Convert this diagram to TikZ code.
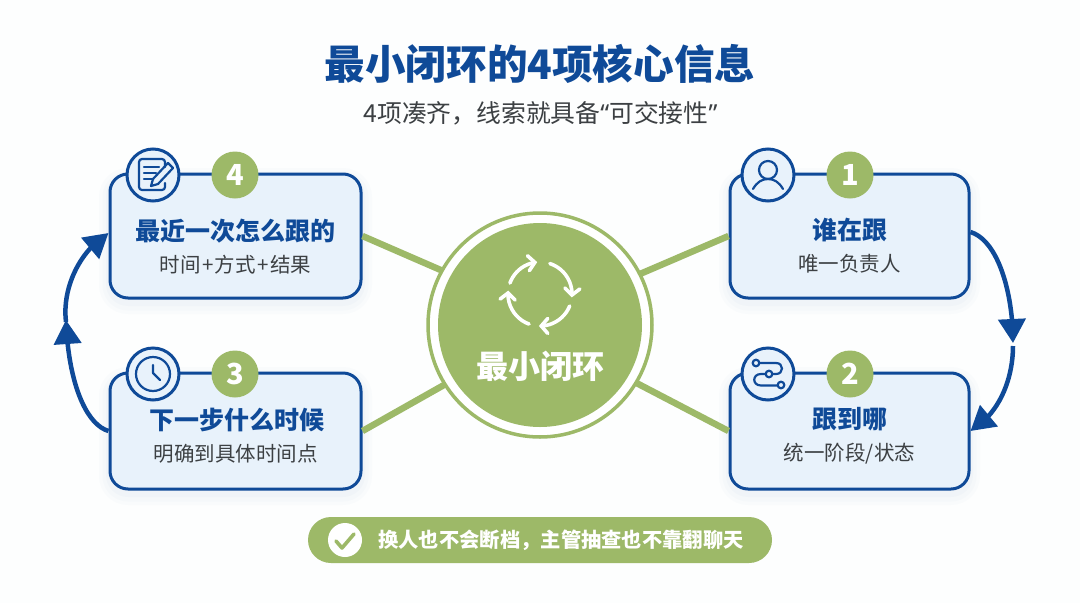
\documentclass[tikz,border=0pt]{standalone}
\usepackage{fontspec}
\setmainfont{Noto Sans CJK SC}
\newfontfamily\heavyf{Noto Sans CJK SC Black}
\newfontfamily\latinq{Noto Sans}
\usetikzlibrary{arrows.meta,calc,bending}
\definecolor{navy}{HTML}{0F4A98}
\definecolor{leaf}{HTML}{9DB968}
\definecolor{paleblue}{HTML}{E8F2FB}
\definecolor{greytext}{HTML}{3C4043}
\definecolor{pagebg}{HTML}{FDFEFE}
\newcommand{\fs}[1]{\fontsize{#1}{#1}\selectfont}
\newcommand{\plus}{\kern1.5pt+\kern1.5pt}
\tikzset{
  x=1pt,y=-1pt,
  card/.style={draw=navy,line width=3pt,fill=paleblue,rounded corners=18pt,minimum width=#1,inner sep=0pt,
    preaction={draw=navy!60,draw opacity=.025,fill=none,line width=22pt,transform canvas={yshift=-5pt}},
    preaction={draw=navy!60,draw opacity=.025,fill=none,line width=15pt,transform canvas={yshift=-5pt}},
    preaction={draw=navy!60,draw opacity=.03,fill=none,line width=8pt,transform canvas={yshift=-4pt}}},
  iconring/.style={circle,draw=navy,line width=3pt,fill=paleblue,minimum size=52pt,inner sep=0pt},
  badge/.style={circle,fill=leaf,text=white,minimum size=47pt,inner sep=0pt,font=\fs{29}\bfseries},
  cardtitle/.style={text=navy,font=\fs{25}\heavyf,inner sep=0pt},
  cardsub/.style={text=greytext,font=\fs{20.5},inner sep=0pt},
  spoke/.style={draw=leaf,line width=6.5pt},
  flow/.style={draw=navy,line width=4.5pt},
  flowtip/.style={flow,-{Triangle[length=24pt,width=27pt,flex]}},
  glyph/.style={draw=navy,line width=2.2pt,line cap=round,line join=round},
  cyc/.style={draw=white,line width=3.6pt,line cap=round,-{Straight Barb[length=6.5pt,width=15pt,line cap=round]}},
}
\begin{document}
\begin{tikzpicture}
\useasboundingbox (0,0) rectangle (1080,603);
\fill[pagebg] (0,0) rectangle (1080,603);

\node[text=navy,font=\fs{40.6}\heavyf,inner sep=0pt] (title) at (540,64) {最小闭环的4项核心信息};
\node[text=greytext,font=\fs{24.8},inner sep=0pt] (subtitle) at (540.5,113) {4项凑齐，线索就具备{\latinq“}可交接性{\latinq”}};

% hub placeholder for the spokes
\node[circle,minimum size=226pt,inner sep=0pt] (hub) at (540,325) {};

% cards
\node[card=251pt,minimum height=124pt] (card4) at (235.5,236) {};
\node[card=251pt,minimum height=116pt] (card3) at (235.5,431) {};
\node[card=239pt,minimum height=124pt] (card1) at (849.5,236) {};
\node[card=239pt,minimum height=116pt] (card2) at (849.5,431) {};

% spokes
\draw[spoke] (card4.east) -- (hub.151);
\draw[spoke] (card3.east) -- (hub.212);
\draw[spoke] (card1.west) -- (hub.27);
\draw[spoke] (card2.west) -- (hub.-31);

% hub
\node[circle,draw=leaf,line width=3.5pt,fill=white,minimum size=224pt,inner sep=0pt] (hubring) at (540,325) {};
\node[circle,fill=leaf,minimum size=204pt,inner sep=0pt] (hubdisc) at (540,325) {};
\draw[cyc] plot[smooth,domain=160:95,samples=12] ({540+32*cos(\x)},{294-32*sin(\x)});
\draw[cyc] plot[smooth,domain=72:-6,samples=12] ({540+32*cos(\x)},{294-32*sin(\x)});
\draw[cyc] plot[smooth,domain=-22:-92,samples=12] ({540+32*cos(\x)},{294-32*sin(\x)});
\draw[cyc] plot[smooth,domain=-110:-186,samples=12] ({540+32*cos(\x)},{294-32*sin(\x)});
\node[text=white,font=\fs{32}\bfseries,inner sep=0pt] (hublabel) at (540,366) {最小闭环};

% flow arrows
\coordinate (right1) at (1013,343);
\coordinate (right2) at (1013,346);
\coordinate (left1) at (66,320);
\coordinate (left2) at (66,322);
\draw[flowtip] ([yshift=4pt]card1.east) .. controls (997,240) and (1013,290) .. (right1);
\draw[flowtip] (right2) .. controls (1013,375) and (1002,412) .. (card2.east);
\draw[flowtip] (card3.west) .. controls (85,424) and (68,380) .. (left1);
\draw[flowtip] (left2) .. controls (62,290) and (78,252) .. ([yshift=3pt]card4.west);

% icon rings and badges
\node[iconring] (icon4) at (153,175) {};
\node[iconring] (icon3) at (153,374) {};
\node[iconring] (icon1) at (768,175) {};
\node[iconring] (icon2) at (768,374) {};
\node[badge] (badge4) at (235,175) {4};
\node[badge] (badge3) at (235,374) {3};
\node[badge] (badge1) at (850,175) {1};
\node[badge] (badge2) at (850,374) {2};

% icon 4: note and pencil
\begin{scope}[shift={(153,175)}]
\draw[glyph] (12,-8) -- (12,-13) arc[start angle=0,end angle=90,radius=3pt] -- (-11,-16) arc[start angle=90,end angle=180,radius=3pt] -- (-14,12) arc[start angle=180,end angle=270,radius=3pt] -- (9,15) arc[start angle=-90,end angle=0,radius=3pt] -- (12,8);
\draw[glyph] (-9,-8) -- (6,-8) (-9,-2) -- (3,-2) (-9,4) -- (-1,4);
\draw[glyph] (15,-12) -- (20,-7) -- (5,9) -- (-2,11) -- (0,4) -- cycle;
\end{scope}

% icon 3: clock
\begin{scope}[shift={(153,374)}]
\draw[glyph] (0,0) circle[radius=17pt];
\draw[glyph] (0,-9) -- (0,-1) -- (7,6);
\end{scope}

% icon 1: person
\begin{scope}[shift={(768,175)}]
\draw[glyph] (0,-5) circle[radius=9pt];
\draw[glyph] (-15,14) .. controls (-11,7) and (-6,4) .. (0,4) .. controls (6,4) and (11,7) .. (15,14);
\end{scope}

% icon 2: route
\begin{scope}[shift={(768,374)}]
\draw[glyph] (-12,-11) circle[radius=3.3pt];
\draw[glyph] (1,0) circle[radius=3.3pt];
\draw[glyph] (13,11) circle[radius=3.3pt];
\draw[glyph] (-8.5,-11) -- (8,-11) .. controls (16,-11) and (16,0) .. (8,0) -- (4.5,0);
\draw[glyph] (-2.5,0) -- (-7,0) .. controls (-16,0) and (-16,11.5) .. (-7,11.5) -- (9.5,11.5);
\end{scope}

% card texts
\node[cardtitle] (t4) at (235.5,231) {最近一次怎么跟的};
\node[cardsub] (s4) at (235.5,265) {时间\plus 方式\plus 结果};
\node[cardtitle] (t3) at (236.5,420) {下一步什么时候};
\node[cardsub] (s3) at (235.5,454) {明确到具体时间点};
\node[cardtitle] (t1) at (849.5,230) {谁在跟};
\node[cardsub] (s1) at (849.5,264) {唯一负责人};
\node[cardtitle] (t2) at (849.5,419) {跟到哪};
\node[cardsub] (s2) at (849.5,454) {统一阶段/状态};

% bottom pill
\node[fill=leaf,rounded corners=23pt,minimum width=464pt,minimum height=46pt,inner sep=0pt] (pill) at (540,540) {};
\node[circle,fill=white,minimum size=34pt,inner sep=0pt] (check) at (345,540) {};
\draw[leaf,line width=3.6pt,line cap=round,line join=round] (336,541) -- (342,548) -- (354,534);
\node[text=white,font=\fs{20.3}\bfseries,inner sep=0pt] (pilltext) at (561,540) {换人也不会断档，主管抽查也不靠翻聊天};
\end{tikzpicture}
\end{document}
